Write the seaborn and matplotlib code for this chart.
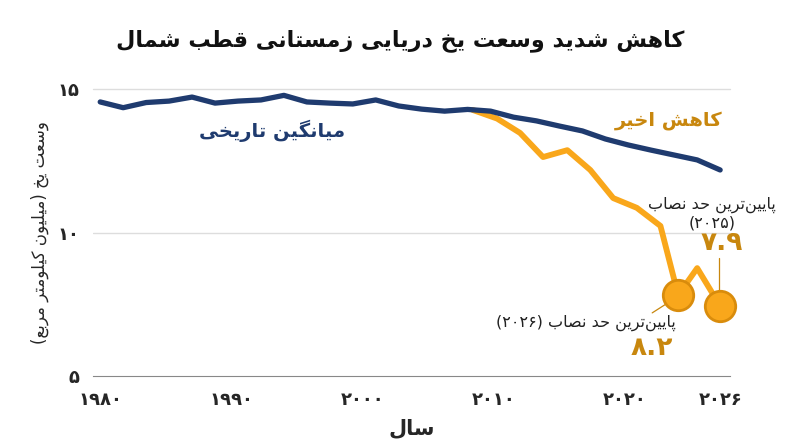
import seaborn as sns
import matplotlib
matplotlib.use("Agg")
import matplotlib.pyplot as plt
import pandas as pd

# --- data --------------------------------------------------------------
hist_years = [1980.0, 1981.75, 1983.5, 1985.25, 1987.0, 1988.75, 1990.5,
              1992.25, 1994.0, 1995.75, 1997.5, 1999.25, 2001.0, 2002.75,
              2004.5, 2006.25, 2008.0, 2009.75, 2011.5, 2013.25, 2015.0,
              2016.75, 2018.5, 2020.25, 2022.0, 2023.75, 2025.5, 2027.25]
hist_vals = [14.55, 14.35, 14.53, 14.58, 14.72, 14.51, 14.58, 14.62, 14.78,
             14.55, 14.51, 14.48, 14.62, 14.41, 14.30, 14.23, 14.29, 14.23,
             14.02, 13.89, 13.71, 13.54, 13.26, 13.05, 12.87, 12.70, 12.53,
             12.18]

recent_years = [2008.4, 2010.25, 2012.0, 2013.75, 2015.6, 2017.35, 2019.1,
                2020.9, 2022.7, 2024.05, 2025.5, 2027.25]
recent_vals = [14.27, 13.97, 13.47, 12.63, 12.87, 12.18, 11.2, 10.86, 10.23,
               7.82, 8.76, 7.44]

record_years = [2024.05, 2027.25]
record_vals = [7.82, 7.44]

xtick_pos = [1980, 1990, 2000, 2010, 2020, 2027.25]
xtick_labels = ["۱۹۸۰", "۱۹۹۰", "۲۰۰۰", "۲۰۱۰", "۲۰۲۰", "۲۰۲۶"]
ytick_pos = [5, 10, 15]
ytick_labels = ["۵", "۱۰", "۱۵"]

title = "کاهش شدید وسعت یخ دریایی زمستانی قطب شمال"
ylabel = "وسعت یخ (میلیون کیلومتر مربع)"
xlabel = "سال"
hist_label = "میانگین تاریخی"
recent_label = "کاهش اخیر"
rec_a_text = "پایین\u200cترین حد نصاب"
rec_a_year = "(۲۰۲۵)"
rec_a_value = "۷.۹"
rec_b_text = "پایین\u200cترین حد نصاب (۲۰۲۶)"
rec_b_value = "۸.۲"

NAVY = "#1f3b6f"
ORANGE = "#f9a71b"
GOLD = "#c8870e"

# --- minimal Persian shaping + RTL ordering (matplotlib has none) --------
# (isolated, final, initial, medial); None = does not join to the next letter
FORMS = {
    "\u0627": ("\uFE8D", "\uFE8E", None, None),
    "\u0622": ("\uFE81", "\uFE82", None, None),
    "\u0628": ("\uFE8F", "\uFE90", "\uFE91", "\uFE92"),
    "\u067E": ("\uFB56", "\uFB57", "\uFB58", "\uFB59"),
    "\u062A": ("\uFE95", "\uFE96", "\uFE97", "\uFE98"),
    "\u062D": ("\uFEA1", "\uFEA2", "\uFEA3", "\uFEA4"),
    "\u062E": ("\uFEA5", "\uFEA6", "\uFEA7", "\uFEA8"),
    "\u062F": ("\uFEA9", "\uFEAA", None, None),
    "\u0631": ("\uFEAD", "\uFEAE", None, None),
    "\u0632": ("\uFEAF", "\uFEB0", None, None),
    "\u0633": ("\uFEB1", "\uFEB2", "\uFEB3", "\uFEB4"),
    "\u0634": ("\uFEB5", "\uFEB6", "\uFEB7", "\uFEB8"),
    "\u0635": ("\uFEB9", "\uFEBA", "\uFEBB", "\uFEBC"),
    "\u0637": ("\uFEC1", "\uFEC2", "\uFEC3", "\uFEC4"),
    "\u0639": ("\uFEC9", "\uFECA", "\uFECB", "\uFECC"),
    "\u0642": ("\uFED5", "\uFED6", "\uFED7", "\uFED8"),
    "\u06A9": ("\uFB8E", "\uFB8F", "\uFB90", "\uFB91"),
    "\u06AF": ("\uFB92", "\uFB93", "\uFB94", "\uFB95"),
    "\u0644": ("\uFEDD", "\uFEDE", "\uFEDF", "\uFEE0"),
    "\u0645": ("\uFEE1", "\uFEE2", "\uFEE3", "\uFEE4"),
    "\u0646": ("\uFEE5", "\uFEE6", "\uFEE7", "\uFEE8"),
    "\u0647": ("\uFEE9", "\uFEEA", "\uFEEB", "\uFEEC"),
    "\u0648": ("\uFEED", "\uFEEE", None, None),
    "\u06CC": ("\uFBFC", "\uFBFD", "\uFBFE", "\uFBFF"),
}
DIGITS = set("0123456789۰۱۲۳۴۵۶۷۸۹")
MIRROR = {"(": ")", ")": "("}


def fa(text):
    out = []
    for i, c in enumerate(text):
        if c not in FORMS:
            out.append(c)
            continue
        prev = text[i - 1] if i > 0 else None
        nxt = text[i + 1] if i + 1 < len(text) else None
        jp = prev in FORMS and FORMS[prev][2] is not None
        jn = FORMS[c][2] is not None and nxt in FORMS
        iso, fin, ini, med = FORMS[c]
        out.append(med if jp and jn else fin if jp else ini if jn else iso)
    s = "".join(ch for ch in out if ch != "\u200c")
    tokens, i = [], 0
    while i < len(s):
        if s[i] in DIGITS:
            j = i
            while j < len(s) and (s[j] in DIGITS or
                                  (s[j] == "." and j + 1 < len(s) and s[j + 1] in DIGITS)):
                j += 1
            tokens.append(s[i:j])
            i = j
        else:
            tokens.append(MIRROR.get(s[i], s[i]))
            i += 1
    return "".join(reversed(tokens))


# --- plot ---------------------------------------------------------------
sns.set_style("white")
plt.rcParams["font.family"] = ["DejaVu Sans"]

hist_df = pd.DataFrame({"year": hist_years, "extent": hist_vals})
recent_df = pd.DataFrame({"year": recent_years, "extent": recent_vals})
rec_df = pd.DataFrame({"year": record_years, "extent": record_vals})

fig = plt.figure(figsize=(8, 4.47), dpi=100)
ax = fig.add_axes([0.11625, 0.1588, 0.79625, 0.642])

ax.axhline(10, color="#dddddd", lw=1, zorder=0)
ax.axhline(15, color="#dddddd", lw=1, zorder=0, clip_on=False)

sns.lineplot(data=hist_df, x="year", y="extent", color=NAVY, lw=3.8,
             ax=ax, zorder=3, clip_on=False)
sns.lineplot(data=recent_df, x="year", y="extent", color=ORANGE, lw=4.2,
             ax=ax, zorder=2, clip_on=False)
sns.scatterplot(data=rec_df, x="year", y="extent", s=480, color=ORANGE,
                edgecolor="#d98c0c", linewidth=2, ax=ax, zorder=4,
                clip_on=False)

ax.set_xlim(1979.45, 2028.0)
ax.set_ylim(5, 15)
ax.set_xticks(xtick_pos)
ax.set_xticklabels(xtick_labels, fontsize=13, fontweight="bold")
ax.set_yticks(ytick_pos)
ax.set_yticklabels(ytick_labels, fontsize=13, fontweight="bold")
ax.tick_params(axis="x", length=7, width=1, color="#888888", pad=4)
ax.tick_params(axis="y", length=0, pad=10)

for side in ["top", "right", "left"]:
    ax.spines[side].set_visible(False)
ax.spines["bottom"].set_color("#888888")

ax.set_xlabel(fa(xlabel), fontsize=15, fontweight="bold", labelpad=6)
ax.set_ylabel(fa(ylabel), fontsize=12, labelpad=6)
fig.text(0.5, 0.908, fa(title), ha="center", va="center", fontsize=16,
         fontweight="bold", color="#111111")

ax.text(1993.1, 13.54, fa(hist_label), color=NAVY, fontsize=14,
        fontweight="bold", ha="center", va="center")
ax.text(2023.3, 13.92, fa(recent_label), color=GOLD, fontsize=14,
        fontweight="bold", ha="center", va="center")

ax.text(2026.65, 10.66, fa(rec_a_text) + "\n" + fa(rec_a_year),
        color="#222222", fontsize=11.5, ha="center", va="center",
        linespacing=1.2)
ax.text(2027.4, 9.63, rec_a_value, color=GOLD, fontsize=19,
        fontweight="bold", ha="center", va="center")
ax.plot([2027.18, 2027.18], [9.11, 7.89], color=GOLD, lw=0.9, zorder=1)

ax.text(2023.83, 6.85, fa(rec_b_text), color="#222222", fontsize=11.5,
        ha="right", va="center")
ax.text(2022.07, 5.98, rec_b_value, color=GOLD, fontsize=19,
        fontweight="bold", ha="center", va="center")
ax.plot([2022.07, 2023.37], [7.2, 7.58], color=GOLD, lw=0.9, zorder=1)

fig.savefig("out.png", dpi=100)
